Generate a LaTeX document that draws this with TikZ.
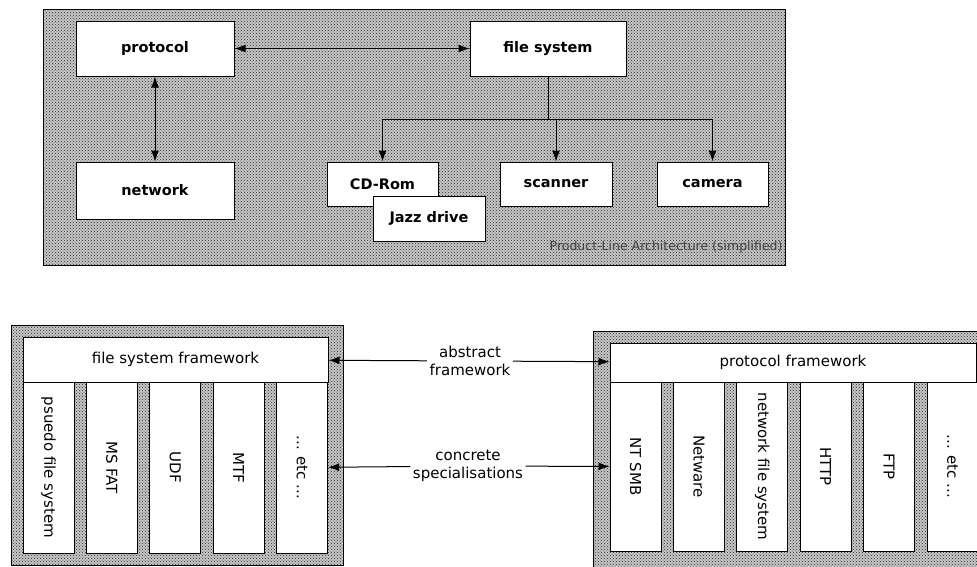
\documentclass[tikz,border=0pt]{standalone}
\usepackage{fontspec}
\setmainfont{DejaVu Sans}
\usetikzlibrary{arrows, arrows.meta, positioning, patterns}

\begin{document}
\begin{tikzpicture}[x=1pt, y=-1pt, >={Latex[length=11pt, width=8pt]}, line width=1pt, node distance=63.4pt,
    panel/.style={draw, preaction={fill=black!22}, pattern=crosshatch dots, pattern color=black!85},
    part/.style={draw, fill=white, inner sep=0pt, font=\fontsize{14.5}{16}\selectfont\bfseries, minimum height=44pt},
    layer/.style={draw, fill=white, inner sep=0pt, font=\fontsize{15}{17}\selectfont},
    column/.style={layer, minimum width=51pt, minimum height=170pt},
    colText/.style={rotate=-90, inner sep=0pt, font=\fontsize{15}{17}\selectfont}]

    \clip (0,0) rectangle (977,566);

    % Panels
    \draw[panel] (43,9) rectangle (785,265);
    \draw[panel] (11,325) rectangle (343,565);
    \draw[panel] (593,331) rectangle (992,580);

    % Product line
    \node (protocol) [part, minimum width=158pt, minimum height=55pt] at (155,48.5) {protocol};
    \node (fileSystem) [part, minimum width=156pt, minimum height=55pt] at (548,48.5) {file system};
    \node (network) [part, minimum width=158pt, minimum height=57pt] at (155,190.5) {network};
    \node (cdRom) [part, minimum width=111pt] at (382.5,184) {CD-Rom};
    \node (jazzDrive) [part, minimum width=112pt, minimum height=45pt] at (429,218.5) {Jazz drive};
    \node (scanner) [part, minimum width=112pt] at (556,184) {scanner};
    \node (camera) [part, minimum width=111pt] at (712.5,184) {camera};
    \node (plaLabel) [anchor=east, inner sep=0pt, text=black!75, font=\fontsize{12.5}{14}\selectfont] at (783,247) {Product-Line Architecture (simplified)};
    \coordinate (bus) at (548,119);

    % File system framework
    \node (fsFramework) [layer, minimum width=305pt, minimum height=45pt] at (175.5,359.5) {file system framework};
    \node (fsCol1) [column, minimum height=171pt] at (48.5,467.5) {};
    \node (fsCol2) [column, minimum height=171pt, right of=fsCol1] {};
    \node (fsCol3) [column, minimum height=171pt, right of=fsCol2] {};
    \node (fsCol4) [column, minimum height=171pt, right of=fsCol3] {};
    \node (fsCol5) [column, minimum height=171pt, right of=fsCol4] {};
    \node [colText] at (fsCol1) {psuedo file system};
    \node [colText] at (fsCol2) {MS FAT};
    \node [colText] at (fsCol3) {UDF};
    \node [colText] at (fsCol4) {MTF};
    \node [colText] at (fsCol5) {... etc ...};

    % Protocol framework
    \node (protoFramework) [layer, minimum width=366pt, minimum height=39pt] at (793,362.5) {protocol framework};
    \node (protoCol1) [column, minimum height=169pt] at (635.5,466.5) {};
    \node (protoCol2) [column, minimum height=169pt, right of=protoCol1] {};
    \node (protoCol3) [column, minimum height=169pt, right of=protoCol2] {};
    \node (protoCol4) [column, minimum height=169pt, right of=protoCol3] {};
    \node (protoCol5) [column, minimum height=169pt, right of=protoCol4] {};
    \node (protoCol6) [column, minimum height=169pt, right of=protoCol5] {};
    \node [colText] at (protoCol1) {NT SMB};
    \node [colText] at (protoCol2) {Netware};
    \node [colText] at (protoCol3) {network file system};
    \node [colText] at (protoCol4) {HTTP};
    \node [colText] at (protoCol5) {FTP};
    \node [colText] at (protoCol6) {... etc ...};

    % Labels between frameworks
    \node (absLabel) [align=center, inner sep=2pt, font=\fontsize{15}{18}\selectfont] at (470,361) {abstract\\framework};
    \node (concLabel) [align=center, inner sep=2pt, font=\fontsize{15}{18}\selectfont] at (468,466) {concrete\\specialisations};

    % Arrows
    \draw[<->] (protocol) -- (fileSystem);
    \draw[<->] (protocol) -- (network);
    \draw (fileSystem) -- (bus);
    \draw[->] (bus) -| (cdRom);
    \draw[->] (bus) -| (scanner);
    \draw[->] (bus) -| (camera);
    \draw[->] (absLabel) -- (fsFramework);
    \draw[->] (absLabel) -- (protoFramework);
    \draw[->] (concLabel) -- (fsCol5);
    \draw[->] (concLabel) -- (protoCol1);
\end{tikzpicture}
\end{document}
